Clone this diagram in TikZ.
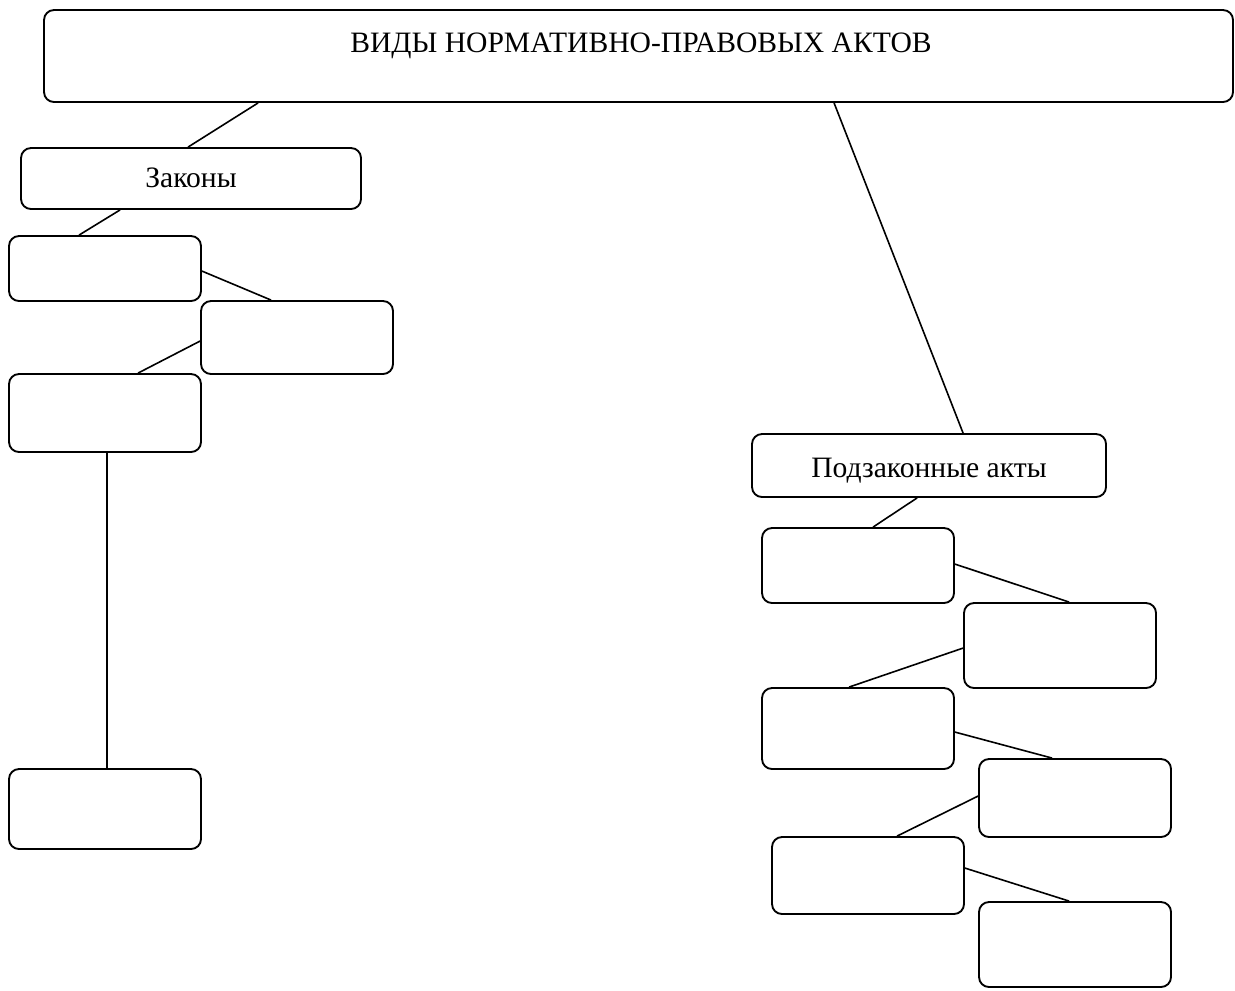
\documentclass[tikz,border=0pt]{standalone}
\usepackage{fontspec}
\setmainfont{Liberation Serif}
\usetikzlibrary{calc}
\begin{document}
\begin{tikzpicture}[x=0.75pt,y=-0.75pt,
  box/.style={draw=black,line width=1.4pt,rounded corners=7.5pt,rectangle,inner sep=0pt,fill=white},
  conn/.style={draw=black,line width=1.2pt},
  lbl/.style={inner sep=0pt,anchor=base,font=\fontsize{22.2}{26}\selectfont}]
\useasboundingbox (0,0) rectangle (1235,990);
\fill[white] (0,0) rectangle (1235,990);
% boxes
\node[box,minimum width=1189*0.75pt,minimum height=92*0.75pt] (T) at (638.5,56) {};
\node[box,minimum width=340*0.75pt,minimum height=61*0.75pt] (Z) at (191,178.5) {};
\node[box,minimum width=192*0.75pt,minimum height=65*0.75pt] (L1) at (105,268.5) {};
\node[box,minimum width=192*0.75pt,minimum height=73*0.75pt] (L2) at (297,337.5) {};
\node[box,minimum width=192*0.75pt,minimum height=78*0.75pt] (L3) at (105,413) {};
\node[box,minimum width=192*0.75pt,minimum height=80*0.75pt] (L4) at (105,809) {};
\node[box,minimum width=354*0.75pt,minimum height=63*0.75pt] (P) at (929,465.5) {};
\node[box,minimum width=192*0.75pt,minimum height=75*0.75pt] (R1) at (858,565.5) {};
\node[box,minimum width=192*0.75pt,minimum height=85*0.75pt] (R2) at (1060,645.5) {};
\node[box,minimum width=192*0.75pt,minimum height=81*0.75pt] (R3) at (858,728.5) {};
\node[box,minimum width=192*0.75pt,minimum height=78*0.75pt] (R4) at (1075,798) {};
\node[box,minimum width=192*0.75pt,minimum height=77*0.75pt] (R5) at (868,875.5) {};
\node[box,minimum width=192*0.75pt,minimum height=85*0.75pt] (R6) at (1075,944.5) {};
% texts
\node[lbl] (Tt) at (641,52) {ВИДЫ НОРМАТИВНО-ПРАВОВЫХ АКТОВ};
\node[lbl] (Zt) at (191,187) {Законы};
\node[lbl] (Pt) at (929,477) {Подзаконные акты};
% connectors
\draw[conn] ($(T.south west)+(215,0)$) -- ($(Z.north west)+(168,0)$);
\draw[conn] ($(T.south west)+(791,0)$) -- ($(P.north west)+(212,0)$);
\draw[conn] ($(Z.south west)+(100,0)$) -- ($(L1.north west)+(71,0)$);
\draw[conn] ($(L1.north east)+(0,36)$) -- ($(L2.north west)+(71,0)$);
\draw[conn] ($(L2.north west)+(0,41)$) -- ($(L3.north west)+(130,0)$);
\draw[conn] ($(L3.south)+(2,0)$) -- ($(L4.north)+(2,0)$);
\draw[conn] ($(P.south west)+(166,0)$) -- ($(R1.north west)+(112,0)$);
\draw[conn] ($(R1.north east)+(0,37)$) -- ($(R2.north west)+(106,0)$);
\draw[conn] ($(R2.north west)+(0,46)$) -- ($(R3.north west)+(88,0)$);
\draw[conn] ($(R3.north east)+(0,45)$) -- ($(R4.north west)+(74,0)$);
\draw[conn] ($(R4.north west)+(0,38)$) -- ($(R5.north west)+(126,0)$);
\draw[conn] ($(R5.north east)+(0,32)$) -- ($(R6.north west)+(91,0)$);
\end{tikzpicture}
\end{document}
